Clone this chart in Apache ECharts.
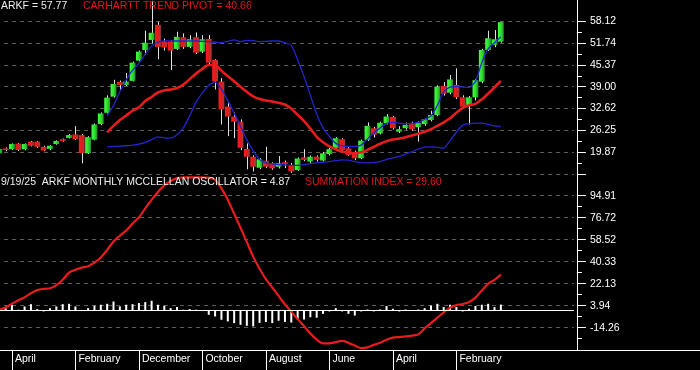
<!DOCTYPE html>
<html><head><meta charset="utf-8">
<script src="https://cdn.jsdelivr.net/npm/echarts@6/dist/echarts.min.js"></script>
<style>html,body{margin:0;padding:0;background:#000;}#c{width:700px;height:370px;}</style>
</head><body><div id="c"></div>
<script>
// ---------- categories (monthly, Feb 2019 .. Sep 2025, plus empty right padding) ----------
const monthNames = ['January','February','March','April','May','June','July','August','September','October','November','December'];
const startYear = 2019, startMonthIdx = 1, nMonths = 80, padMonths = 11;
const categories = [];
for (let i = 0; i < nMonths + padMonths; i++) {
  const m = (startMonthIdx + i) % 12, y = startYear + Math.floor((startMonthIdx + i) / 12);
  categories.push(y + '-' + String(m + 1).padStart(2, '0'));
}
const labelStart = 2, labelStep = 10;

// ---------- price candles ----------
const open  = [19.6,21.0,20.8,22.4,20.8,23.0,23.0,21.5,20.9,22.3, 23.7,24.1,25.1,24.9,19.6,23.6,28.1,31.4,36.1,40.4, 39.5,40.7,46.6,49.7,52.6,57.0,52.0,52.1,50.0,53.4, 50.6,53.4,49.2,52.9,46.8,40.45,33.2,30.3,28.8,20.85, 18.6,15.4,17.45,16.7,15.7,17.0,16.2,14.7,18.4,17.2, 18.6,17.5,19.4,21.06,23.7,21.06,19.9,18.15,23.5,26.9, 25.4,28.4,30.2,25.9,26.9,28.1,27.2,28.1,29.3,30.76, 39.2,37.25,39.5,35.9,33.4,35.9,40.45,49.7,51.1,52.1];
const close = [20.9,20.7,22.3,20.6,22.3,21.8,21.5,20.4,21.8,23.2, 23.2,24.9,23.7,19.7,24.3,28.0,31.2,35.8,39.8,39.5, 40.5,46.0,49.2,51.8,54.7,50.6,50.4,49.5,53.5,50.6, 52.8,48.9,52.8,46.0,40.5,32.4,30.3,28.8,21.2,18.6, 15.7,17.85,15.7,15.2,16.7,16.5,14.3,18.1,17.7,18.6, 17.7,19.6,20.8,23.97,20.6,19.1,18.15,23.3,27.6,25.0, 28.5,30.3,26.9,26.6,27.85,26.6,28.5,29.5,30.76,39.0, 36.9,41.1,35.9,33.2,35.9,40.9,49.7,53.1,52.8,57.77];
const high  = [21.2,21.3,22.5,22.6,22.5,23.2,23.2,21.8,22.0,23.4, 23.9,25.2,27.5,25.2,24.6,28.3,31.5,36.5,41.0,40.8, 43.0,46.3,49.5,55.3,64.0,57.9,53.0,52.5,55.0,54.5, 54.0,54.8,54.0,54.0,47.0,41.5,34.5,31.5,29.5,22.5, 19.0,18.2,21.5,17.0,18.8,17.5,16.8,18.4,20.8,19.0, 19.0,20.0,21.3,24.3,24.0,21.4,20.4,23.6,28.6,27.3, 28.8,31.0,30.5,27.5,28.6,28.8,28.9,29.9,32.0,39.4, 40.3,42.4,44.35,36.5,36.3,41.2,50.0,55.3,55.5,57.9];
const low   = [19.4,20.2,20.6,20.3,20.5,21.6,21.2,20.2,20.5,22.1, 23.0,23.9,23.5,16.7,19.4,23.4,27.8,31.2,35.8,38.0, 39.2,40.5,46.4,48.2,51.5,47.0,49.5,43.85,49.7,50.0, 50.2,48.5,48.8,45.5,38.2,28.0,24.6,24.0,20.5,14.95, 14.3,15.0,15.3,14.8,15.2,15.3,13.9,14.5,17.3,16.8, 17.2,17.2,19.0,20.8,20.3,18.9,17.6,17.9,23.2,24.2, 25.1,28.0,26.5,25.5,26.5,26.2,23.0,27.6,28.9,30.4, 36.4,36.8,35.4,32.5,28.0,35.0,40.0,49.4,50.5,51.8];

// ---------- overlays (start at month index 17) ----------
const overlayStart = 17;
const trendPivot = [25.7,27.6,29.3,30.6,32.0,33.0,34.8,36.0,37.3,37.9, 38.2,38.6,39.6,41.2,42.8,44.2,45.3,45.3,43.6,42.1, 40.6,39.0,37.5,36.2,35.4,35.0,34.7,34.3,33.8,32.6, 30.8,29.0,26.8,24.4,22.8,21.6,20.8,20.1,19.8,19.6, 19.9,20.6,21.5,22.4,23.1,23.6,23.9,24.3,24.8,25.3, 25.9,26.6,27.6,28.6,29.8,31.4,32.8,33.6,34.0,35.3, 37.0,38.8,40.66];
const upperBand = [30.5,33.5,37.5,41.0,43.8,45.8,48.5,50.8,52.0,52.3, 52.3,52.3,52.3,52.3,52.3,52.2,52.1,52.0,51.8,52.2, 52.6,52.1,52.5,52.4,52.1,52.2,52.3,52.3,51.8,51.0, 46.8,42.0,36.5,31.0,27.0,24.5,22.5,21.8,21.6,21.6, 22.0,23.8,25.6,27.0,28.3,28.6,28.4,28.2,28.3,28.6, 29.5,30.5,33.5,37.5,38.9,39.0,38.9,38.8,40.5,46.0, 50.0,51.8,53.5];
const lowerBand = [21.5,21.6,21.7,21.8,22.0,22.3,22.8,23.6,24.4,24.1, 24.0,25.0,27.0,30.5,34.5,37.2,39.4,40.3,38.3,35.0, 31.3,27.5,23.5,20.3,17.8,16.8,16.5,16.3,16.2,16.1, 16.1,16.3,16.6,16.8,17.0,17.2,17.5,17.7,17.6,17.2, 16.9,16.8,16.9,17.2,17.8,18.3,18.7,19.4,20.1,20.8, 21.4,21.5,21.4,21.1,23.3,25.8,27.8,28.2,28.4,28.4, 28.0,27.6,27.4];

// ---------- McClellan oscillator / summation ----------
const summationIndex = [0.5,2.5,5.5,8.5,10.8,14.2,16.8,17.8,18.3,21.0, 25.4,31.2,33.6,35.4,36.6,39.5,43.8,50.0,57.0,61.8, 66.2,71.8,77.0,84.5,91.5,98.0,103.5,107.0,109.4,110.0, 110.1,110.1,110.0,109.8,108.0,101.0,91.5,80.0,68.5,56.5, 44.5,34.5,26.0,19.0,12.0,5.0,-1.0,-7.2,-13.0,-19.0, -24.0,-27.2,-27.2,-26.2,-25.2,-26.8,-29.0,-31.2,-30.5,-28.5, -26.7,-24.3,-22.5,-22.0,-21.5,-20.8,-19.8,-14.8,-10.5,-6.0, -1.6,2.3,4.4,5.3,7.0,10.6,16.5,22.0,25.3,29.6];
const oscillator = [1.5,2.8,4.7,0.6,3.3,5.2,1.1,-0.8,1.9,3.3, 5.2,5.5,3.3,-0.5,1.9,3.9,4.7,5.5,7.4,3.3, 4.7,5.2,6.1,6.9,8.0,4.7,3.9,1.9,2.8,0.6, 1.1,0.6,-0.5,-3.6,-5.0,-7.7,-9.1,-10.5,-11.9,-12.7, -13.2,-10.3,-9.6,-10.5,-8.5,-9.5,-10.0,-7.4,-7.5,-5.6, -6.0,-2.8,-0.8,1.9,-0.8,-2.8,-4.2,-0.8,0.8,-0.8, 0.8,3.6,1.4,-0.8,0.8,0.3,0.8,1.9,4.1,5.5, 2.8,4.7,2.8,-0.8,1.4,3.6,4.7,5.5,2.8,4.87];

// ---------- axis ticks ----------
const priceTickLabels = [19.87,26.25,32.62,39.00,45.37,51.74,58.12];
const priceGridExtra = [13.495];
const priceMinorTicks = [16.68,23.06,29.43,35.81,42.18,48.56,54.93];
const oscTickLabels = [-14.26,3.94,22.13,40.33,58.52,76.72,94.91];
const oscMinorTicks = [-23.36,-5.16,13.035,31.23,49.425,67.62,85.815];

// ---------- texts ----------
const priceText = 'ARKF = 57.77';
const pivotText = 'CARHARTT TREND PIVOT = 40.66';
const oscText = '9/19/25  ARKF MONTHLY MCCLELLAN OSCILLATOR = 4.87';
const sumText = 'SUMMATION INDEX = 29.60';

// ================= build =================
const FONT = '"Liberation Sans", Arial, sans-serif';
const withOffset = arr => { const out = new Array(overlayStart).fill(null); return out.concat(arr); };
const candleData = open.map((o, i) => [i, o, close[i], low[i], high[i]]);
const isLabelIdx = i => i >= labelStart && i < nMonths && (i - labelStart) % labelStep === 0;

const chart = echarts.init(document.getElementById('c'), null, {renderer: 'canvas'});
const gridLeft = -3.975, gridWidth = 577.85;

function gradFor(up) {
  return up
    ? new echarts.graphic.LinearGradient(0, 0, 1, 0, [{offset: 0, color: '#40ff40'}, {offset: 0.5, color: '#30e030'}, {offset: 1, color: '#2a8a2a'}])
    : new echarts.graphic.LinearGradient(0, 0, 1, 0, [{offset: 0, color: '#ff1c1c'}, {offset: 0.5, color: '#e01a1a'}, {offset: 1, color: '#9a4040'}]);
}

function renderCandle(params, api) {
  const i = api.value(0), o = api.value(1), c = api.value(2), l = api.value(3), h = api.value(4);
  const pO = api.coord([i, o]), pC = api.coord([i, c]), pL = api.coord([i, l]), pH = api.coord([i, h]);
  const bw = api.size([1, 0])[0] * 0.92;
  const cx = pO[0];
  const top = Math.min(pO[1], pC[1]), bot = Math.max(pO[1], pC[1]);
  return {
    type: 'group',
    children: [
      {type: 'line', shape: {x1: Math.round(cx) + 0.5, y1: pH[1], x2: Math.round(cx) + 0.5, y2: pL[1]}, style: {stroke: '#e0e0e0', lineWidth: 1}},
      {type: 'rect', shape: {x: cx - bw / 2, y: top, width: bw, height: Math.max(bot - top, 1.5)}, style: {fill: gradFor(c >= o)}}
    ]
  };
}

const axisLabelBase = {color: '#ffffff', fontSize: 10.5, fontFamily: FONT};
const dashed = {color: '#5c5c5c', type: [4, 4], width: 1};

chart.setOption({
  backgroundColor: '#000000',
  animation: false,
  grid: [
    {left: gridLeft, width: gridWidth, top: 0, height: 175, outerBoundsMode: 'none', containLabel: false},
    {left: gridLeft, width: gridWidth, top: 175, height: 175, outerBoundsMode: 'none', containLabel: false},
    {left: 0, width: 700, top: 350, height: 20, outerBoundsMode: 'none', containLabel: false}
  ],
  xAxis: [
    {type: 'category', gridIndex: 0, data: categories, show: false, boundaryGap: true},
    {type: 'category', gridIndex: 1, data: categories, boundaryGap: true, position: 'bottom',
      axisLine: {show: true, onZero: false, lineStyle: {color: '#ffffff', width: 1}},
      axisTick: {show: true, alignWithLabel: true, length: 20, interval: (idx) => isLabelIdx(idx), lineStyle: {color: '#ffffff', width: 1}},
      axisLabel: Object.assign({}, axisLabelBase, {
        interval: (idx) => isLabelIdx(idx), align: 'left', margin: 4, padding: [0, 0, 0, 3],
        formatter: (v) => monthNames[parseInt(v.split('-')[1], 10) - 1]
      }),
      splitLine: {show: false}
    },
    {type: 'value', gridIndex: 2, position: 'top', min: 0, max: 1,
      axisLine: {show: true, onZero: false, lineStyle: {color: '#ffffff', width: 1}},
      axisTick: {show: false}, axisLabel: {show: false}, splitLine: {show: false}}
  ],
  yAxis: [
    {type: 'value', gridIndex: 0, position: 'right', offset: 3, min: 13.287, max: 64.233,
      axisLine: {show: true, onZero: false, lineStyle: {color: '#ffffff', width: 1}},
      axisTick: {show: true, length: 9, customValues: priceGridExtra.concat(priceTickLabels), lineStyle: {color: '#ffffff'}},
      axisLabel: Object.assign({}, axisLabelBase, {customValues: priceTickLabels, margin: 13, formatter: v => v.toFixed(2)}),
      splitLine: {show: true, lineStyle: dashed}},
    {type: 'value', gridIndex: 0, position: 'right', offset: 3, min: 13.287, max: 64.233,
      axisLine: {show: false},
      axisTick: {show: true, length: 5, customValues: priceMinorTicks, lineStyle: {color: '#ffffff'}},
      axisLabel: {show: false}, splitLine: {show: false}},
    {type: 'value', gridIndex: 1, position: 'right', offset: 3, min: -32.72, max: 112.03,
      axisLine: {show: true, onZero: false, lineStyle: {color: '#ffffff', width: 1}},
      axisTick: {show: true, length: 9, customValues: oscTickLabels, lineStyle: {color: '#ffffff'}},
      axisLabel: Object.assign({}, axisLabelBase, {customValues: oscTickLabels, margin: 13, formatter: v => v.toFixed(2)}),
      splitLine: {show: true, lineStyle: dashed}},
    {type: 'value', gridIndex: 1, position: 'right', offset: 3, min: -32.72, max: 112.03,
      axisLine: {show: false},
      axisTick: {show: true, length: 5, customValues: oscMinorTicks, lineStyle: {color: '#ffffff'}},
      axisLabel: {show: false}, splitLine: {show: false}},
    {type: 'value', gridIndex: 2, show: false, min: 0, max: 1}
  ],
  series: [
    {type: 'custom', name: 'ARKF', xAxisIndex: 0, yAxisIndex: 0, renderItem: renderCandle, data: candleData,
      encode: {x: 0, y: [1, 2, 3, 4]}, clip: true, z: 2},
    {type: 'line', name: 'upper', xAxisIndex: 0, yAxisIndex: 0, data: withOffset(upperBand), showSymbol: false,
      lineStyle: {color: '#2424d0', width: 1.3}, smooth: 0.2, z: 3},
    {type: 'line', name: 'lower', xAxisIndex: 0, yAxisIndex: 0, data: withOffset(lowerBand), showSymbol: false,
      lineStyle: {color: '#2424d0', width: 1.3}, smooth: 0.2, z: 3},
    {type: 'line', name: 'pivot', xAxisIndex: 0, yAxisIndex: 0, data: withOffset(trendPivot), showSymbol: false,
      lineStyle: {color: '#e81c1c', width: 2.6}, smooth: 0.3, z: 4},
    {type: 'bar', name: 'osc', xAxisIndex: 1, yAxisIndex: 2, data: oscillator, barWidth: 2,
      itemStyle: {color: '#ffffff'}, z: 2,
      markLine: {silent: true, symbol: ['none', 'none'], label: {show: false},
        lineStyle: {color: '#ffffff', type: 'solid', width: 1}, data: [{yAxis: 0}]}},
    {type: 'line', name: 'sum', xAxisIndex: 1, yAxisIndex: 2, data: summationIndex, showSymbol: false,
      lineStyle: {color: '#e81c1c', width: 2.2}, smooth: 0.3, z: 4}
  ],
  graphic: [
    {type: 'text', x: 1, y: 6, z: 100, style: {text: priceText, fill: '#eeeeee', font: '10.5px ' + FONT, verticalAlign: 'middle'}},
    {type: 'text', x: 83, y: 6, z: 100, style: {text: pivotText, fill: '#e01818', font: '10.5px ' + FONT, verticalAlign: 'middle'}},
    {type: 'text', x: 1, y: 182, z: 100, style: {text: oscText, fill: '#eeeeee', font: '10.5px ' + FONT, verticalAlign: 'middle'}},
    {type: 'text', x: 305, y: 182, z: 100, style: {text: sumText, fill: '#e01818', font: '10.5px ' + FONT, verticalAlign: 'middle'}}
  ]
});
</script>
</body></html>
